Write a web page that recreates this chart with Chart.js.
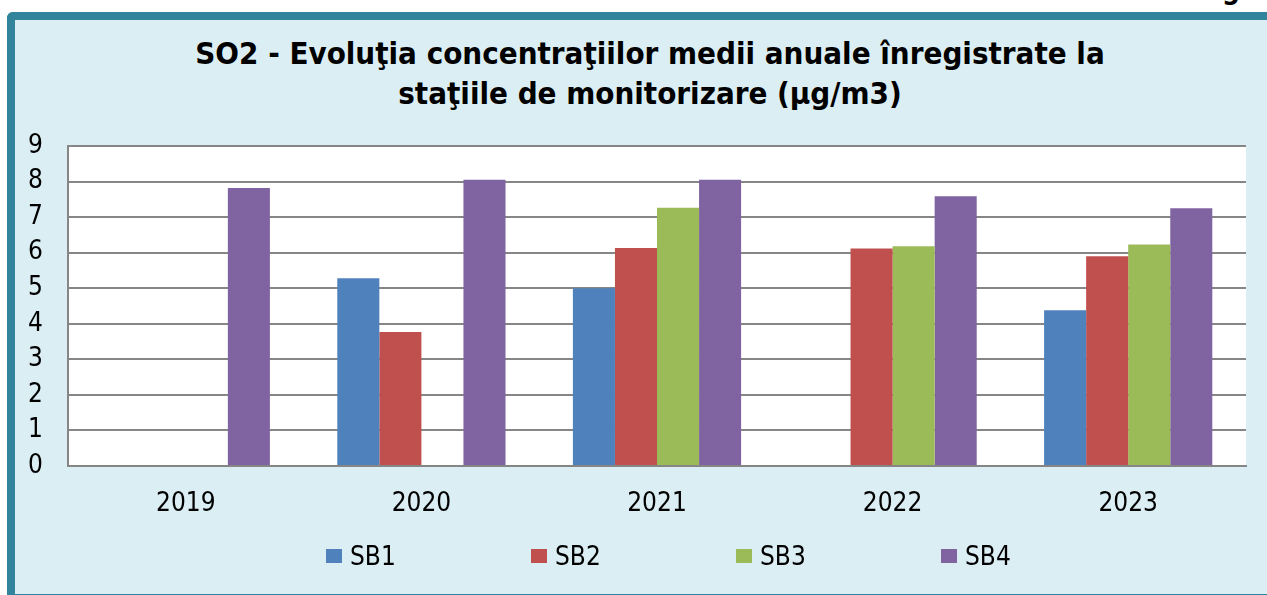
<!DOCTYPE html>
<html>
<head>
<meta charset="utf-8">
<script src="https://cdn.jsdelivr.net/npm/chart.js@4.4.1/dist/chart.umd.min.js"></script>
<style>
  html, body { margin: 0; padding: 0; background: #fff; }
  body { width: 1267px; height: 595px; position: relative; overflow: hidden; font-family: "DejaVu Sans Condensed", "DejaVu Sans", sans-serif; }
  #cut { position: absolute; right: 27px; top: -27px; font: bold 28px "DejaVu Sans Condensed", sans-serif; color: #000; white-space: nowrap; }
  #frame { position: absolute; left: 7px; top: 12px; right: 0; bottom: 0; background: #dbeef4;
           border-left: 8px solid #31849b; border-top: 8px solid #31849b; border-bottom: 1px solid #31849b;
           border-top-left-radius: 6px; }
  #title { position: absolute; left: 0; width: 1300px; top: 33px; text-align: center; font: bold 31px/40px "DejaVu Sans Condensed", sans-serif; color: #000; }
  #wrap { position: absolute; left: 0; top: 0; width: 1267px; height: 595px; }
  #legend { position: absolute; left: 326px; top: 541px; display: flex; font-size: 26px; color: #000; }
  #legend .item { display: flex; align-items: center; width: 205px; }
  #legend .box { width: 16px; height: 14px; margin-right: 8px; }
</style>
</head>
<body>
<div id="cut">g</div>
<div id="frame"></div>
<div id="title">SO2 - Evoluţia concentraţiilor medii anuale înregistrate la<br>staţiile de monitorizare (µg/m3)</div>
<div id="wrap"><canvas id="chart" width="1267" height="595"></canvas></div>
<div id="legend"></div>
<script>
const years = ['2019', '2020', '2021', '2022', '2023']
const stations = ['SB1', 'SB2', 'SB3', 'SB4']
const sb1 = [null, 5.28, 5.0, null, 4.38]
const sb2 = [null, 3.77, 6.13, 6.12, 5.9]
const sb3 = [null, null, 7.26, 6.18, 6.23]
const sb4 = [7.82, 8.05, 8.05, 7.59, 7.25]
const yTicks = [0, 1, 2, 3, 4, 5, 6, 7, 8, 9]
const colors = ['#4f81bd', '#c0504d', '#9bbb59', '#8064a2']

const series = [sb1, sb2, sb3, sb4]

const plotBg = {
    id: 'plotBg',
    beforeDraw(chart){
        const a = chart.chartArea
        chart.ctx.save()
        chart.ctx.fillStyle = '#ffffff'
        chart.ctx.fillRect(a.left, a.top, a.right - a.left, a.bottom - a.top)
        chart.ctx.restore()
    }
}

const tickFont = { family: '"DejaVu Sans Condensed", "DejaVu Sans", sans-serif', size: 26 }

const chart = new Chart(document.getElementById('chart'), {
    type: 'bar',
    data: {
        labels: years,
        datasets: stations.map((s, i) => ({
            label: s,
            data: series[i],
            backgroundColor: colors[i],
            borderWidth: 0,
            categoryPercentage: 0.714,
            barPercentage: 1.0
        }))
    },
    options: {
        responsive: false,
        animation: false,
        layout: { padding: { left: 10, right: 21, top: 146, bottom: 69 } },
        plugins: {
            legend: { display: false },
            tooltip: { enabled: false },
            title: { display: false }
        },
        scales: {
            x: {
                grid: { display: false, drawTicks: false },
                border: { display: true, color: '#868686', width: 2 },
                ticks: { color: '#000', font: tickFont, padding: 23 },
                afterFit(scale){ scale.height = 60 }
            },
            y: {
                min: 0,
                max: 9,
                afterBuildTicks(scale){ scale.ticks = yTicks.map(v => ({ value: v })) },
                grid: { color: '#868686', lineWidth: 2, drawTicks: false },
                border: { display: true, color: '#868686', width: 2 },
                ticks: { color: '#000', font: tickFont, padding: 25 },
                afterFit(scale){ scale.width = 58 }
            }
        }
    },
    plugins: [plotBg]
})

const legend = document.getElementById('legend')
chart.data.datasets.forEach(ds => {
    const item = document.createElement('div')
    item.className = 'item'
    const box = document.createElement('span')
    box.className = 'box'
    box.style.background = ds.backgroundColor
    const txt = document.createElement('span')
    txt.textContent = ds.label
    item.appendChild(box)
    item.appendChild(txt)
    legend.appendChild(item)
})
</script>
</body>
</html>
